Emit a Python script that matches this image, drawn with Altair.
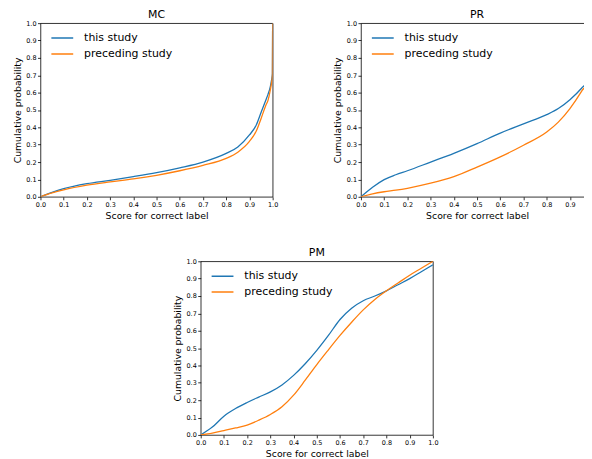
import altair as alt
import pandas as pd

FONT = "DejaVu Sans"

series_names = ["this study", "preceding study"]
series_colors = ["#1f77b4", "#ff7f0e"]
tick_values = [0.0, 0.1, 0.2, 0.3, 0.4, 0.5, 0.6, 0.7, 0.8, 0.9, 1.0]

# MC panel
mc_x = [0.0, 0.05, 0.1, 0.2, 0.3, 0.4, 0.5, 0.6, 0.7, 0.8, 0.85, 0.9, 0.93, 0.95, 0.97, 0.98, 0.99, 0.995, 0.999, 1.0]
mc_this = [0.0, 0.025, 0.047, 0.076, 0.095, 0.116, 0.139, 0.167, 0.2, 0.25, 0.287, 0.356, 0.415, 0.485, 0.555, 0.59, 0.635, 0.67, 0.71, 1.0]
mc_prev = [0.0, 0.022, 0.04, 0.067, 0.086, 0.103, 0.124, 0.15, 0.181, 0.221, 0.257, 0.319, 0.38, 0.45, 0.525, 0.555, 0.615, 0.655, 0.70, 1.0]

# PR panel
pr_x = [0.0, 0.05, 0.1, 0.15, 0.2, 0.3, 0.4, 0.5, 0.6, 0.7, 0.8, 0.85, 0.9, 0.95, 0.98, 0.99, 0.999, 1.0]
pr_this = [0.0, 0.055, 0.099, 0.127, 0.15, 0.2, 0.25, 0.306, 0.367, 0.42, 0.473, 0.508, 0.559, 0.625, 0.675, 0.715, 0.78, 1.0]
pr_prev = [0.0, 0.017, 0.029, 0.038, 0.049, 0.078, 0.116, 0.171, 0.23, 0.297, 0.373, 0.43, 0.508, 0.607, 0.675, 0.73, 0.79, 1.0]

# PM panel
pm_x = [0.0, 0.05, 0.1, 0.15, 0.2, 0.25, 0.3, 0.35, 0.4, 0.45, 0.5, 0.55, 0.6, 0.65, 0.7, 0.75, 0.8, 0.85, 0.9, 0.95, 1.0]
pm_this = [0.0, 0.045, 0.108, 0.152, 0.187, 0.218, 0.248, 0.288, 0.343, 0.41, 0.487, 0.573, 0.665, 0.73, 0.773, 0.8, 0.83, 0.865, 0.9, 0.94, 0.98]
pm_prev = [0.0, 0.01, 0.025, 0.04, 0.057, 0.085, 0.118, 0.162, 0.229, 0.315, 0.405, 0.49, 0.573, 0.649, 0.72, 0.78, 0.83, 0.875, 0.92, 0.96, 1.0]


def make_df(xs, a, b):
    rows = []
    for i, (x, v) in enumerate(zip(xs, a)):
        rows.append({"x": x, "y": v, "series": series_names[0], "idx": i})
    for i, (x, v) in enumerate(zip(xs, b)):
        rows.append({"x": x, "y": v, "series": series_names[1], "idx": i})
    return pd.DataFrame(rows)


def panel(name, xs, a, b):
    df = make_df(xs, a, b)
    return (
        alt.Chart(
            df,
            title=alt.Title(name, font=FONT, fontSize=11, fontWeight="normal",
                            color="black", offset=0, frame="group"),
        )
        .mark_line(strokeWidth=1.3, clip=True, interpolate="monotone")
        .encode(
            x=alt.X(
                "x:Q",
                scale=alt.Scale(domain=[0, 1], nice=False, zero=False),
                axis=alt.Axis(title="Score for correct label", values=tick_values,
                              format=".1f", labelFlush=False, labelOverlap=False),
            ),
            y=alt.Y(
                "y:Q",
                scale=alt.Scale(domain=[0, 1], nice=False, zero=False),
                axis=alt.Axis(title="Cumulative probability", values=tick_values,
                              format=".1f", labelOverlap=False),
            ),
            color=alt.Color(
                "series:N",
                scale=alt.Scale(domain=series_names, range=series_colors),
                legend=alt.Legend(title=None, orient="none", legendX=10, legendY=7),
            ),
            order="idx:Q",
        )
        .properties(width=234, height=175)
    )


mc = panel("MC", mc_x, mc_this, mc_prev)
pr = panel("PR", pr_x, pr_this, pr_prev)
pm = panel("PM", pm_x, pm_this, pm_prev)

top = (
    alt.hconcat(mc, pr, spacing=54)
    .resolve_scale(color="independent")
    .resolve_legend(color="independent")
)

chart = (
    alt.vconcat(top, pm, spacing=26, center=True)
    .resolve_scale(color="independent")
    .resolve_legend(color="independent")
    .properties(padding={"left": 3.5, "top": -1.5, "right": -15, "bottom": 0})
    .configure(style={"group-title": {"fontWeight": "normal", "fontSize": 11, "font": FONT}})
    .configure_view(stroke="black", strokeWidth=0.8)
    .configure_title(font=FONT, fontSize=11, fontWeight="normal", color="black")
    .configure_axis(
        labelFont=FONT, labelFontSize=6.5, labelColor="black", labelPadding=1.5,
        titleFont=FONT, titleFontSize=9.4, titleFontWeight="normal", titleColor="black",
        titlePadding=3.5, tickColor="black", tickSize=3, tickWidth=0.8,
        domain=False, grid=False,
    )
    .configure_legend(
        labelFont=FONT, labelFontSize=11, labelColor="black",
        symbolType="stroke", symbolSize=484, symbolStrokeWidth=1.5,
        clipHeight=16, rowPadding=0, labelOffset=10, padding=0,
    )
)

chart.save("out.html", embed_options={"renderer": "svg", "actions": False})
